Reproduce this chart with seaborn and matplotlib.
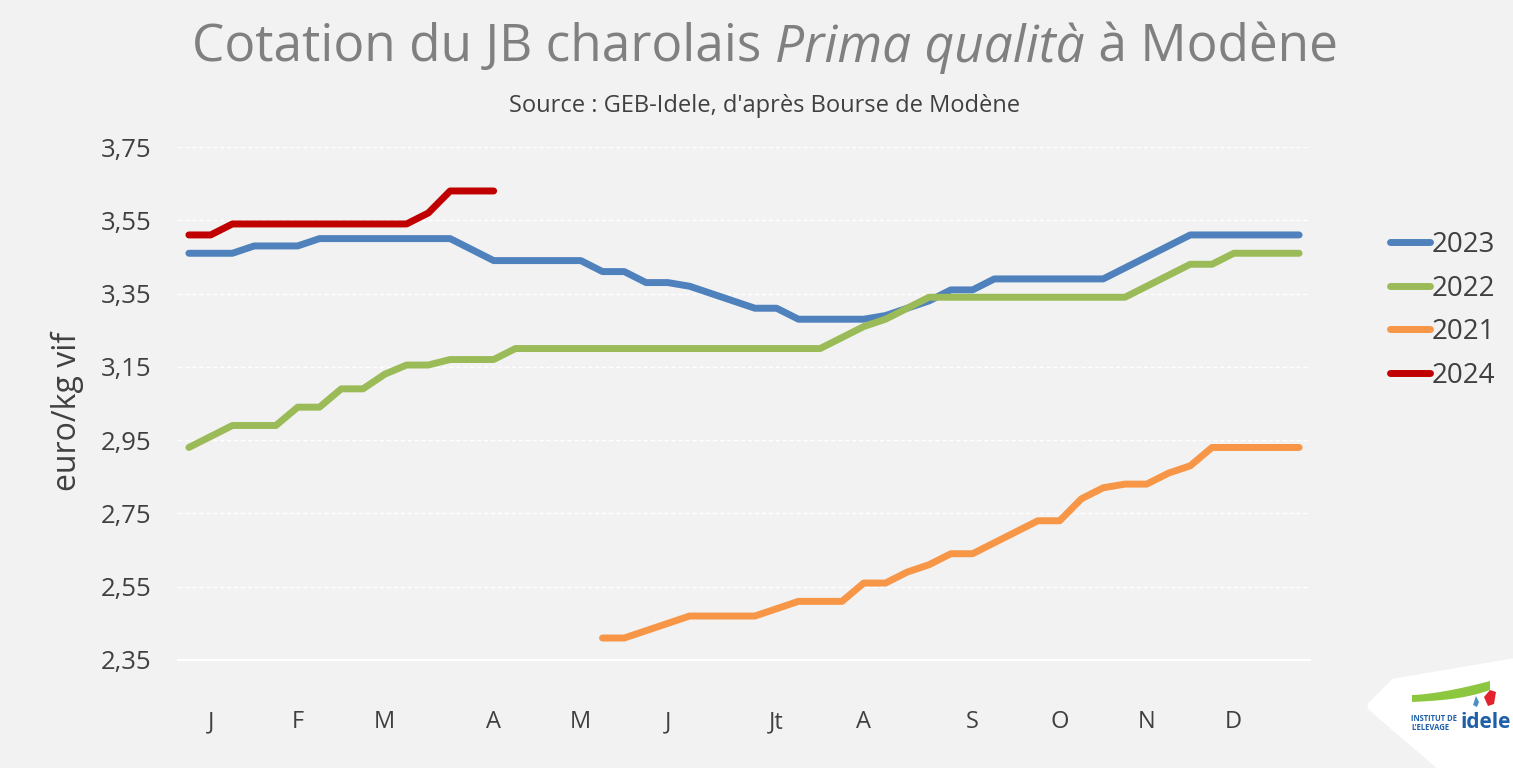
import numpy as np
import pandas as pd
import matplotlib
matplotlib.use("Agg")
import matplotlib.pyplot as plt
import seaborn as sns
from matplotlib.ticker import FixedLocator, FuncFormatter
from matplotlib.patches import Polygon

nan = np.nan
weeks = list(range(52))
month_labels = ["J", "F", "M", "A", "M", "J", "Jt", "A", "S", "O", "N", "D"]
month_pos = [1, 5, 9, 14, 18, 22, 27, 31, 36, 40, 44, 48]

v2023 = ([3.46] * 3 + [3.48] * 3 + [3.50] * 7 + [3.47] + [3.44] * 5 + [3.41] * 2 +
         [3.38] * 2 + [3.37, 3.35, 3.33] + [3.31] * 2 + [3.28] * 4 + [3.29, 3.31, 3.33] +
         [3.36] * 2 + [3.39] * 6 + [3.42, 3.45, 3.48] + [3.51] * 6)
v2022 = ([2.93, 2.96] + [2.99] * 3 + [3.04] * 2 + [3.09] * 2 + [3.13] + [3.155] * 2 +
         [3.17] * 3 + [3.20] * 15 + [3.23, 3.26, 3.28, 3.31] + [3.34] * 10 +
         [3.37, 3.40] + [3.43] * 2 + [3.46] * 4)
v2021 = ([nan] * 19 + [2.41] * 2 + [2.43, 2.45] + [2.47] * 4 + [2.49] + [2.51] * 3 +
         [2.56] * 2 + [2.59, 2.61] + [2.64] * 2 + [2.67, 2.70] + [2.73] * 2 +
         [2.79, 2.82] + [2.83] * 2 + [2.86, 2.88] + [2.93] * 5)
v2024 = [3.51] * 2 + [3.54] * 9 + [3.57] + [3.63] * 3 + [nan] * 37

series = {"2023": v2023, "2022": v2022, "2021": v2021, "2024": v2024}
colors = {"2023": "#4f81bd", "2022": "#9bbb59", "2021": "#f79646", "2024": "#c00000"}
order = ["2023", "2022", "2021", "2024"]

rows = []
for name, vals in series.items():
    for w, v in zip(weeks, vals):
        if not np.isnan(v):
            rows.append({"week": w, "price": v, "year": name})
df = pd.DataFrame(rows)

sns.set_style("white")
plt.rcParams["font.family"] = ["Open Sans", "DejaVu Sans"]

W, H = 1513, 768
bg = "#f2f2f2"
fig = plt.figure(figsize=(W / 100, H / 100), dpi=100, facecolor=bg)
ax = fig.add_axes([178 / W, 1 - 660 / H, (1310 - 178) / W, (660 - 147) / H])
ax.set_facecolor(bg)

sns.lineplot(data=df, x="week", y="price", hue="year", hue_order=order,
             palette=colors, linewidth=5, ax=ax, legend=True,
             solid_capstyle="round", solid_joinstyle="round")

ax.set_xlim(-0.5, 51.5)
ax.set_ylim(2.35, 3.75)
yt = np.round(np.arange(2.35, 3.76, 0.2), 2)
ax.set_yticks(yt)
ax.yaxis.set_major_formatter(FuncFormatter(lambda v, p: f"{v:.2f}".replace(".", ",")))
ax.grid(axis="y", color="white", linestyle=(0, (3, 2)), linewidth=1)
ax.set_axisbelow(True)
for s in ["top", "right", "left"]:
    ax.spines[s].set_visible(False)
ax.spines["bottom"].set_color("white")
ax.spines["bottom"].set_linewidth(1.5)

ax.set_xticks(month_pos)
ax.set_xticklabels(month_labels)
ax.xaxis.set_minor_locator(FixedLocator(np.arange(-0.5, 52, 1)))
ax.tick_params(axis="x", which="major", length=0, pad=36, labelsize=17, labelcolor="#404040")
ax.tick_params(axis="x", which="minor", length=7, width=1, color="white", direction="out")
ax.tick_params(axis="y", length=0, pad=19, labelsize=18.5, labelcolor="#404040")

ax.set_xlabel("")
ax.set_ylabel("euro/kg vif", fontsize=23, color="#404040")
ax.yaxis.set_label_coords((84 - 178) / 1132, 0.485)

handles, labels = ax.get_legend_handles_labels()
leg = ax.legend(handles, labels, loc="upper left", bbox_to_anchor=(1390 / W, 1 - 231 / H),
                bbox_transform=fig.transFigure, frameon=False, fontsize=20,
                handlelength=1.45, handletextpad=0.05, labelspacing=0.56,
                borderpad=0, borderaxespad=0)
for t in leg.get_texts():
    t.set_color("#404040")
for h in leg.get_lines():
    h.set_linewidth(5)
    h.set_solid_capstyle("round")

# title with italic part
fig.canvas.draw()
renderer = fig.canvas.get_renderer()
parts = [("Cotation du JB charolais ", "normal"), ("Prima qualità", "italic"), (" à Modène", "normal")]
texts = []
for s, st in parts:
    t = fig.text(0, 1 - 48 / H, s, fontsize=37, color="#808080", style=st, va="center")
    texts.append(t)
widths = [t.get_window_extent(renderer).width for t in texts]
total = sum(widths)
x0 = 765 - total / 2
for t, w in zip(texts, widths):
    t.set_x(x0 / W)
    x0 += w

fig.text(765 / W, 1 - 106 / H, "Source : GEB-Idele, d'après Bourse de Modène",
         fontsize=17, color="#404040", ha="center", va="center")

# logo
def fpoly(pts, **kw):
    p = Polygon([(x / W, 1 - y / H) for x, y in pts], closed=True,
                transform=fig.transFigure, **kw)
    fig.patches.append(p)

fpoly([(1373, 706), (1395, 684), (1513, 664), (1513, 768), (1445, 768)],
      facecolor="white", edgecolor="white", linewidth=8, joinstyle="round")
tt = np.linspace(0, 1, 30)
upper = [(1412 + 78 * t, 695 - 14 * t ** 1.5) for t in tt]
lower = [(1412 + 78 * t, 702 - 4 * t - 8 * t ** 3) for t in tt[::-1]]
fpoly(upper + lower, facecolor="#8dc63f", edgecolor="none")
fpoly([(1484, 697), (1490, 690), (1496, 692), (1494, 704), (1488, 706)],
      facecolor="#e3232c", edgecolor="none")
fpoly([(1476, 696), (1479, 702), (1477, 707), (1473, 705)], facecolor="#4a90c8", edgecolor="none")
fig.text(1411 / W, 1 - 723 / H, "INSTITUT DE\nL'ELEVAGE", fontsize=5.5, color="#1f5fa8",
         fontweight="bold", va="center", ha="left", linespacing=1.0)
fig.text(1461 / W, 1 - 723 / H, "idele", fontsize=15, color="#1f5fa8",
         fontweight="bold", va="center", ha="left")

fig.savefig("out.png", dpi=100, facecolor=bg)
